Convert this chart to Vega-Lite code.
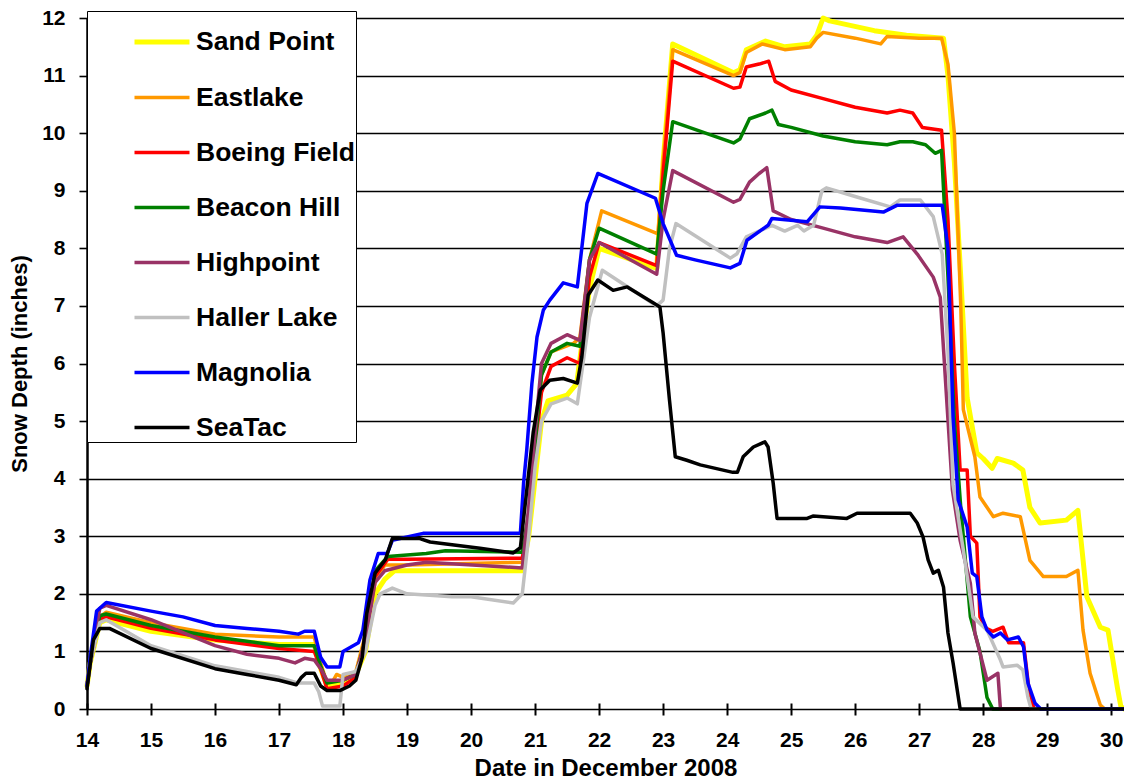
{
  "$schema": "https://vega.github.io/schema/vega-lite/v6.json",
  "autosize": {"type": "none"},
  "padding": {"left": 87, "top": 18, "right": 0, "bottom": 71},
  "width": 1037,
  "height": 691,
  "background": "white",
  "data": {"values": [
    {"s": "Sand Point",
     "d": [14.0,14.05,14.2,14.3,15.0,16.0,17.0,17.55,17.65,17.75,18.0,18.2,18.35,18.5,18.65,18.8,19.5,20.8,20.9,21.0,21.1,21.2,21.5,21.65,21.75,21.85,22.0,22.9,23.0,23.15,24.1,24.2,24.3,24.6,24.9,25.3,25.4,25.5,25.6,26.3,26.8,27.38,27.45,27.55,27.65,27.75,27.9,28.0,28.14,28.22,28.47,28.62,28.73,28.89,29.3,29.48,29.62,29.83,29.95,30.1,30.15,30.2],
     "v": [0.4,0.8,1.5,1.55,1.35,1.2,1.12,1.12,0.7,0.4,0.45,0.6,1.0,2.0,2.25,2.4,2.4,2.4,3.0,4.0,5.0,5.35,5.45,5.65,6.5,7.3,8.0,7.65,9.5,11.55,11.05,11.1,11.45,11.6,11.5,11.55,11.7,12.0,11.95,11.78,11.7,11.65,11.0,9.5,7.5,5.4,4.45,4.35,4.18,4.35,4.27,4.15,3.5,3.23,3.28,3.45,1.95,1.42,1.37,0.35,0.05,0.0]},
    {"s": "Eastlake",
     "d": [14.0,14.05,14.2,14.3,15.0,16.0,17.0,17.55,17.65,17.75,17.85,17.9,18.0,18.2,18.35,18.5,18.65,19.0,20.8,20.9,21.0,21.1,21.25,21.6,21.7,21.85,22.04,22.92,23.0,23.15,24.1,24.2,24.3,24.55,24.9,25.3,25.4,25.5,26.0,26.4,26.5,27.0,27.35,27.45,27.55,27.65,27.69,27.87,27.95,28.16,28.31,28.58,28.73,28.94,29.3,29.48,29.56,29.67,29.83,29.9,30.2],
     "v": [0.4,0.8,1.6,1.68,1.5,1.3,1.25,1.25,0.8,0.45,0.5,0.6,0.55,0.65,1.3,2.2,2.5,2.5,2.55,3.2,4.5,5.8,6.2,6.35,6.45,7.8,8.65,8.25,9.5,11.45,11.0,11.05,11.4,11.55,11.45,11.5,11.65,11.75,11.65,11.55,11.68,11.65,11.65,11.2,10.0,7.0,5.2,4.38,3.68,3.34,3.4,3.34,2.58,2.3,2.3,2.41,1.37,0.62,0.07,0.0,0.0]},
    {"s": "Boeing Field",
     "d": [14.0,14.05,14.2,14.3,15.0,16.0,17.0,17.55,17.65,17.75,18.0,18.2,18.35,18.5,18.7,19.0,20.8,20.9,21.0,21.1,21.25,21.5,21.7,21.85,22.0,22.9,23.0,23.15,24.1,24.2,24.3,24.5,24.65,24.75,25.0,25.5,26.0,26.5,26.7,26.9,27.05,27.35,27.45,27.55,27.64,27.75,27.8,27.9,27.95,28.05,28.15,28.31,28.4,28.63,28.73,28.8,30.2],
     "v": [0.4,0.8,1.55,1.6,1.4,1.2,1.05,1.0,0.7,0.35,0.4,0.55,1.2,2.3,2.6,2.6,2.62,3.3,4.5,5.5,5.95,6.1,6.0,7.5,8.1,7.7,9.3,11.25,10.78,10.8,11.15,11.2,11.25,10.9,10.75,10.6,10.45,10.35,10.4,10.35,10.1,10.05,8.5,6.0,4.15,4.15,3.0,2.88,1.6,1.4,1.35,1.42,1.15,1.15,0.2,0.0,0.0]},
    {"s": "Beacon Hill",
     "d": [14.0,14.05,14.2,14.3,15.0,16.0,17.0,17.55,17.65,17.75,18.0,18.2,18.35,18.5,18.7,19.3,19.6,20.8,20.9,21.0,21.1,21.25,21.5,21.7,21.85,22.0,22.9,23.0,23.15,24.1,24.2,24.35,24.6,24.7,24.8,25.0,25.5,26.0,26.5,26.7,26.9,27.1,27.25,27.35,27.45,27.55,27.65,27.8,27.95,28.06,28.15,30.2],
     "v": [0.4,0.8,1.62,1.65,1.45,1.25,1.1,1.1,0.75,0.45,0.5,0.6,1.2,2.4,2.65,2.7,2.75,2.72,3.4,4.6,5.8,6.2,6.35,6.3,7.8,8.35,7.9,9.0,10.2,9.83,9.9,10.25,10.35,10.4,10.15,10.1,9.95,9.85,9.8,9.85,9.85,9.8,9.65,9.7,7.5,5.0,3.5,1.6,1.0,0.2,0.0,0.0]},
    {"s": "Highpoint",
     "d": [14.0,14.05,14.2,14.3,15.0,16.0,16.5,17.0,17.25,17.4,17.55,17.65,17.75,18.0,18.2,18.35,18.5,18.65,19.0,19.3,20.8,20.9,21.0,21.1,21.25,21.5,21.7,21.85,22.0,22.9,23.0,23.15,24.1,24.2,24.35,24.5,24.62,24.72,25.0,25.5,26.0,26.5,26.75,26.97,27.22,27.33,27.44,27.52,27.64,27.8,27.87,28.06,28.23,28.27,30.2],
     "v": [0.4,0.8,1.75,1.8,1.55,1.1,0.95,0.88,0.8,0.88,0.85,0.7,0.5,0.5,0.6,1.2,2.2,2.4,2.5,2.55,2.45,3.5,4.8,6.0,6.35,6.5,6.4,7.8,8.1,7.55,8.5,9.35,8.8,8.85,9.15,9.3,9.4,8.65,8.5,8.35,8.2,8.1,8.2,7.9,7.5,7.15,5.2,3.8,2.93,2.18,1.32,0.5,0.62,0.0,0.0]},
    {"s": "Haller Lake",
     "d": [14.0,14.05,14.2,14.3,15.0,16.0,16.5,17.0,17.3,17.55,17.62,17.68,17.95,18.0,18.2,18.35,18.5,18.58,18.77,19.0,19.7,20.0,20.66,20.8,20.9,21.0,21.1,21.25,21.5,21.66,21.85,22.05,22.9,23.0,23.1,23.2,24.05,24.15,24.3,24.5,24.7,24.9,25.1,25.2,25.35,25.48,25.55,26.0,26.55,26.7,27.02,27.22,27.36,27.45,27.53,27.69,27.84,28.06,28.27,28.31,28.53,28.62,28.7,28.75,30.2],
     "v": [0.4,0.8,1.5,1.55,1.1,0.75,0.65,0.55,0.45,0.45,0.3,0.05,0.05,0.6,0.65,1.0,1.8,2.0,2.1,2.0,1.95,1.95,1.84,2.0,3.0,4.2,5.0,5.3,5.4,5.3,6.8,7.62,7.0,7.1,8.0,8.43,7.83,7.9,8.2,8.3,8.4,8.3,8.4,8.3,8.4,9.0,9.05,8.9,8.72,8.84,8.84,8.55,7.9,6.2,3.9,2.76,1.6,1.37,0.85,0.73,0.76,0.68,0.2,0.0,0.0]},
    {"s": "Magnolia",
     "d": [14.0,14.05,14.15,14.3,15.0,15.5,16.0,16.5,17.0,17.3,17.4,17.55,17.65,17.75,17.95,18.0,18.24,18.31,18.42,18.55,18.69,18.77,19.25,20.77,20.82,20.87,20.95,21.03,21.13,21.23,21.44,21.66,21.81,21.98,22.88,23.0,23.21,23.5,24.05,24.2,24.31,24.64,24.7,25.25,25.45,25.77,26.44,26.66,27.36,27.45,27.53,27.61,27.75,27.83,27.9,27.98,28.06,28.16,28.27,28.38,28.55,28.63,28.7,28.81,28.9,30.2],
     "v": [0.4,0.9,1.7,1.85,1.7,1.6,1.45,1.4,1.35,1.3,1.35,1.35,0.9,0.73,0.73,1.0,1.15,1.37,2.24,2.7,2.7,2.93,3.05,3.05,3.92,4.5,5.65,6.46,6.93,7.1,7.4,7.33,8.78,9.3,8.87,8.43,7.88,7.8,7.66,7.74,8.14,8.4,8.52,8.46,8.72,8.7,8.63,8.75,8.75,8.0,5.07,3.63,3.16,2.36,2.3,1.6,1.37,1.25,1.32,1.2,1.25,1.08,0.45,0.1,0.0,0.0]},
    {"s": "SeaTac",
     "d": [14.0,14.1,14.2,14.35,15.0,16.0,16.5,17.0,17.27,17.35,17.42,17.55,17.65,17.75,17.95,18.1,18.2,18.3,18.37,18.5,18.66,18.77,19.2,19.36,20.14,20.66,20.77,20.87,20.97,21.08,21.23,21.44,21.66,21.73,21.83,21.98,22.22,22.44,22.85,22.95,23.0,23.1,23.19,23.37,23.58,24.09,24.16,24.25,24.41,24.59,24.64,24.72,24.78,25.25,25.34,25.87,26.03,26.86,26.97,27.06,27.14,27.22,27.3,27.38,27.45,27.53,27.64,30.2],
     "v": [0.35,1.2,1.4,1.4,1.05,0.7,0.6,0.5,0.42,0.55,0.62,0.62,0.4,0.32,0.32,0.4,0.5,0.9,1.66,2.36,2.59,2.96,2.96,2.9,2.79,2.71,2.8,3.8,4.8,5.54,5.71,5.74,5.66,6.11,7.19,7.45,7.27,7.33,7.05,6.98,6.53,5.36,4.38,4.32,4.24,4.11,4.11,4.38,4.55,4.64,4.55,3.92,3.31,3.31,3.35,3.31,3.4,3.4,3.23,2.99,2.59,2.36,2.41,2.12,1.32,0.8,0.0,0.0]}
  ]},
  "transform": [{"flatten": ["d", "v"]}],
  "mark": {"type": "line", "strokeJoin": "round", "strokeCap": "round"},
  "encoding": {
    "x": {
      "field": "d", "type": "quantitative",
      "scale": {"domain": [14, 30.2], "nice": false, "zero": false},
      "axis": {
        "values": [14,15,16,17,18,19,20,21,22,23,24,25,26,27,28,29,30],
        "format": "d",
        "title": "Date in December 2008",
        "grid": false, "domain": false, "offset": -6,
        "tickSize": 12, "tickWidth": 2, "tickColor": "black",
        "labelFlush": false, "labelOverlap": false,
        "labelFont": "Liberation Sans", "labelFontSize": 21, "labelFontWeight": "bold", "labelColor": "black",
        "labelPadding": 14,
        "titleFont": "Liberation Sans", "titleFontSize": 24, "titleFontWeight": "bold", "titleColor": "black",
        "titlePadding": 6
      }
    },
    "y": {
      "field": "v", "type": "quantitative",
      "scale": {"domain": [0, 12], "nice": false},
      "axis": {
        "values": [0,1,2,3,4,5,6,7,8,9,10,11,12],
        "title": "Snow Depth (inches)",
        "grid": true, "gridColor": "black", "gridWidth": 1.6, "gridOpacity": 1,
        "domain": true, "domainColor": "black", "domainWidth": 2.5,
        "tickSize": 8, "tickWidth": 1.6, "tickColor": "black",
        "labelFlush": false, "labelOverlap": false,
        "labelFont": "Liberation Sans", "labelFontSize": 21, "labelFontWeight": "bold", "labelColor": "black",
        "labelPadding": 14,
        "titleFont": "Liberation Sans", "titleFontSize": 22, "titleFontWeight": "bold", "titleColor": "black",
        "titlePadding": 10
      }
    },
    "color": {
      "field": "s", "type": "nominal",
      "scale": {
        "domain": ["Sand Point","Eastlake","Boeing Field","Beacon Hill","Highpoint","Haller Lake","Magnolia","SeaTac"],
        "range": ["#FFFF00","#FF9900","#FF0000","#008000","#993366","#C0C0C0","#0000FF","#000000"]
      },
      "legend": {
        "title": null, "orient": "none", "legendX": 0, "legendY": -7,
        "symbolType": "stroke", "symbolSize": 3025, "symbolStrokeWidth": 3,
        "labelFont": "Liberation Sans", "labelFontSize": 26.5, "labelFontWeight": "bold", "labelColor": "black",
        "padding": 1, "rowPadding": 12, "symbolOffset": 44, "labelOffset": 4,
        "strokeColor": "black", "fillColor": "white", "cornerRadius": 0
      }
    },
    "strokeWidth": {
      "field": "s", "type": "nominal",
      "scale": {
        "type": "ordinal",
        "domain": ["Sand Point","Eastlake","Boeing Field","Beacon Hill","Highpoint","Haller Lake","Magnolia","SeaTac"],
        "range": [5,3.5,3.5,3.5,3.5,3.5,3.5,3.5]
      },
      "legend": {
        "title": null, "orient": "none", "legendX": 0, "legendY": -7,
        "symbolType": "stroke", "symbolSize": 3025, "symbolStrokeWidth": 3,
        "labelFont": "Liberation Sans", "labelFontSize": 26.5, "labelFontWeight": "bold", "labelColor": "black",
        "padding": 1, "rowPadding": 12, "symbolOffset": 44, "labelOffset": 4,
        "strokeColor": "black", "fillColor": "white", "cornerRadius": 0
      }
    }
  },
  "config": {
    "font": "Liberation Sans",
    "view": {"stroke": null}
  }
}
